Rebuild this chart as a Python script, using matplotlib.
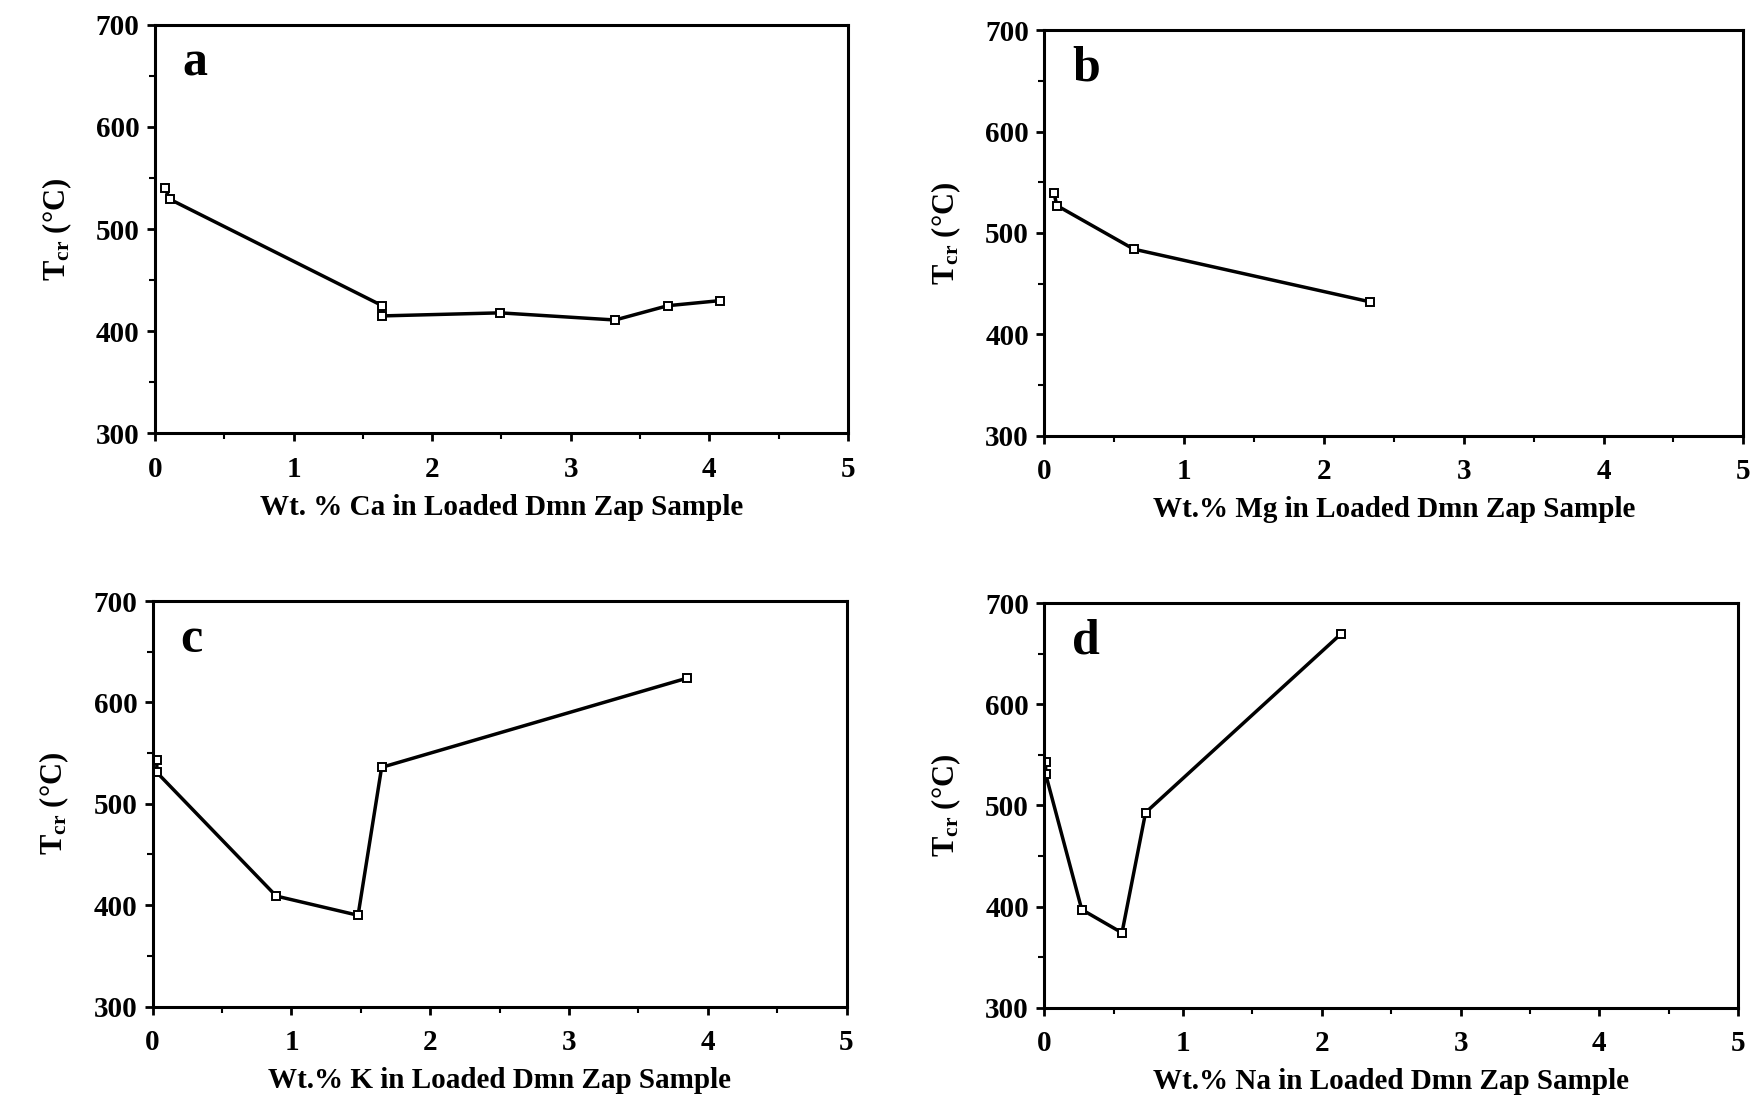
import numpy as np
import matplotlib
matplotlib.use("Agg")
import matplotlib.pyplot as plt

plt.rcParams['font.family'] = ['Liberation Serif', 'DejaVu Serif']
plt.rcParams['font.weight'] = 'bold'
plt.rcParams['mathtext.fontset'] = 'custom'
plt.rcParams['mathtext.rm'] = 'Liberation Serif:bold'
plt.rcParams['mathtext.bf'] = 'Liberation Serif:bold'
plt.rcParams['mathtext.it'] = 'Liberation Serif:bold'

# Wt.% of each cation in loaded Dmn Zap sample vs Tcr (C)
ca_x = [0.07, 0.11, 1.64, 1.64, 2.49, 3.32, 3.70, 4.08]
ca_t = [540, 529, 425, 415, 418, 411, 425, 430]

mg_x = [0.07, 0.09, 0.64, 2.33]
mg_t = [539, 527, 484, 432]

k_x = [0.03, 0.03, 0.89, 1.48, 1.65, 3.85]
k_t = [543, 531, 409, 390, 536, 624]

na_x = [0.01, 0.01, 0.27, 0.56, 0.73, 2.14]
na_t = [543, 531, 397, 374, 493, 670]

panels = [
    ("a", ca_x, ca_t, "Wt. % Ca in Loaded Dmn Zap Sample", [0.088, 0.606, 0.3935, 0.3715]),
    ("b", mg_x, mg_t, "Wt.% Mg in Loaded Dmn Zap Sample", [0.593, 0.604, 0.397, 0.3685]),
    ("c", k_x, k_t, "Wt.% K in Loaded Dmn Zap Sample", [0.0867, 0.085, 0.394, 0.3685]),
    ("d", na_x, na_t, "Wt.% Na in Loaded Dmn Zap Sample", [0.593, 0.084, 0.394, 0.3675]),
]

fig = plt.figure(figsize=(17.61, 11.0), dpi=100)

for letter, xs, ts, xlabel, rect in panels:
    ax = fig.add_axes(rect)
    ax.plot(xs, ts, color='black', lw=2.5, marker='s', markersize=5.5,
            markerfacecolor='white', markeredgecolor='black', markeredgewidth=1.4)
    ax.set_xlim(0, 5)
    ax.set_ylim(300, 700)
    ax.set_xticks(np.arange(0, 6, 1))
    ax.set_xticks(np.arange(0, 5.5, 0.5), minor=True)
    ax.set_yticks(np.arange(300, 800, 100))
    ax.set_yticks(np.arange(300, 750, 50), minor=True)
    ax.tick_params(axis='both', which='major', direction='out', length=6, width=2,
                   labelsize=21, pad=5)
    ax.tick_params(axis='x', which='major', pad=10)
    ax.tick_params(axis='both', which='minor', direction='out', length=4, width=1.5)
    for sp in ax.spines.values():
        sp.set_linewidth(2.2)
    ax.set_xlabel(xlabel, fontsize=21, fontweight='bold', labelpad=8)
    ax.set_ylabel(r"T$_{\mathrm{cr}}$ (°C)", fontsize=22, fontweight='bold', labelpad=16)
    ax.text(0.04, 0.905, letter, transform=ax.transAxes, fontsize=36,
            fontweight='bold', ha='left', va='center')

fig.savefig("out.png", dpi=100)
